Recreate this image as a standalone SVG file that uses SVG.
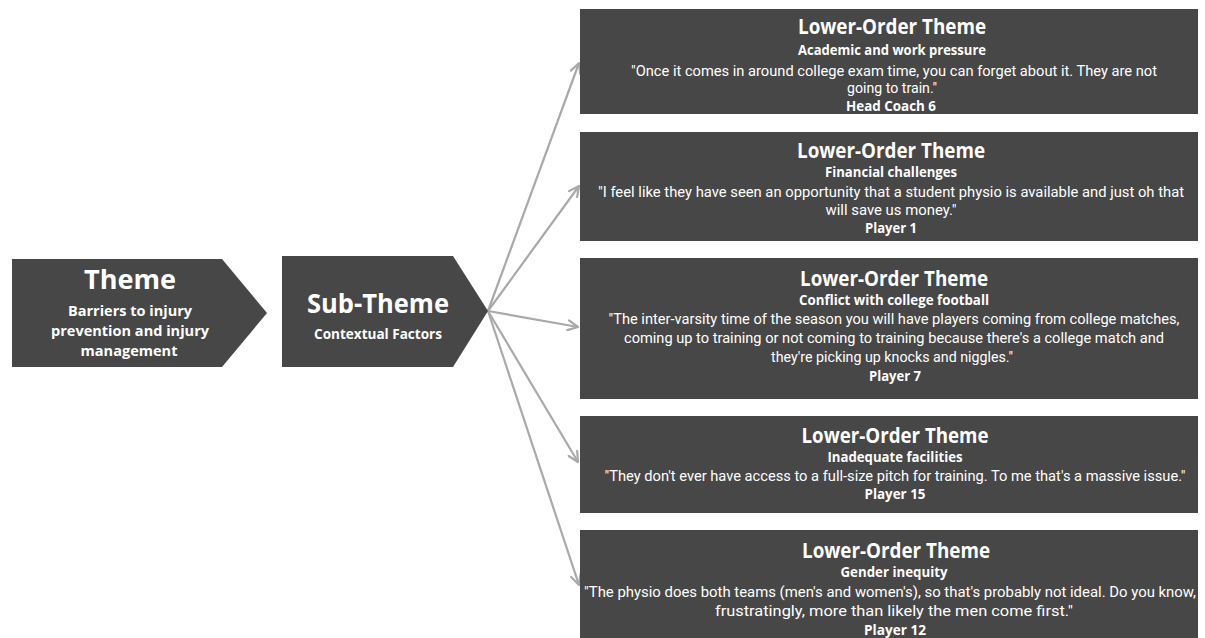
<svg xmlns="http://www.w3.org/2000/svg" width="1205" height="638" viewBox="0 0 1205 638">
<style>
.bg{fill:#ffffff}
.box{fill:#474747}
.t{font-family:"Open Sans","Liberation Sans",sans-serif;fill:#ffffff;text-anchor:middle}
.big{font-weight:700;font-size:27px}
.bs{font-weight:700;font-size:14.5px}
.h{font-weight:700;font-size:20.5px}
.s{font-weight:700;font-size:13.5px}
.q{font-family:Roboto,"Liberation Sans",sans-serif;font-weight:400;font-size:14px}
.n{font-weight:700;font-size:13.5px}
.c{stroke:#a9a9a9;stroke-width:2.2;fill:none}
</style>
<defs>
<marker id="arr" viewBox="0 0 12 12" refX="11" refY="6" markerWidth="12" markerHeight="12" markerUnits="userSpaceOnUse" orient="auto">
<path d="M1,1 L11,6 L1,11" fill="none" stroke="#a9a9a9" stroke-width="2.2" stroke-linecap="round" stroke-linejoin="round"/>
</marker>
</defs>
<rect class="bg" x="0" y="0" width="1205" height="638"/>

<g id="connectors">
<line class="c" x1="488" y1="311" x2="579" y2="63" marker-end="url(#arr)"/>
<line class="c" x1="488" y1="311" x2="579" y2="186" marker-end="url(#arr)"/>
<line class="c" x1="488" y1="311" x2="578" y2="327" marker-end="url(#arr)"/>
<line class="c" x1="488" y1="311" x2="578" y2="462" marker-end="url(#arr)"/>
<line class="c" x1="488" y1="311" x2="579" y2="585" marker-end="url(#arr)"/>
</g>

<g id="theme">
<polygon class="box" points="12,259 222,259 267,313 222,367 12,367"/>
<text class="t big" x="130" y="289" textLength="92" lengthAdjust="spacingAndGlyphs">Theme</text>
<text class="t bs" x="130" y="316" textLength="124" lengthAdjust="spacingAndGlyphs">Barriers to injury</text>
<text class="t bs" x="130" y="336" textLength="158" lengthAdjust="spacingAndGlyphs">prevention and injury</text>
<text class="t bs" x="129" y="356" textLength="97" lengthAdjust="spacingAndGlyphs">management</text>
</g>

<g id="subtheme">
<polygon class="box" points="282,256 453,256 488,311 453,367 282,367"/>
<text class="t big" x="378" y="313" textLength="142" lengthAdjust="spacingAndGlyphs">Sub-Theme</text>
<text class="t s" x="378" y="339" textLength="128" lengthAdjust="spacingAndGlyphs">Contextual Factors</text>
</g>

<g id="lot1">
<rect class="box" x="580" y="9" width="618" height="105"/>
<text class="t h" x="892" y="34" textLength="188" lengthAdjust="spacingAndGlyphs">Lower-Order Theme</text>
<text class="t s" x="892" y="55" textLength="188" lengthAdjust="spacingAndGlyphs">Academic and work pressure</text>
<text class="t q" x="894" y="76" textLength="526" lengthAdjust="spacingAndGlyphs">"Once it comes in around college exam time, you can forget about it. They are not</text>
<text class="t q" x="892" y="93" textLength="90" lengthAdjust="spacingAndGlyphs">going to train."</text>
<text class="t n" x="891" y="111" textLength="90" lengthAdjust="spacingAndGlyphs">Head Coach 6</text>
</g>

<g id="lot2">
<rect class="box" x="580" y="132" width="618" height="109"/>
<text class="t h" x="891" y="158" textLength="188" lengthAdjust="spacingAndGlyphs">Lower-Order Theme</text>
<text class="t s" x="891" y="177" textLength="132" lengthAdjust="spacingAndGlyphs">Financial challenges</text>
<text class="t q" x="891" y="197" textLength="586" lengthAdjust="spacingAndGlyphs">"I feel like they have seen an opportunity that a student physio is available and just oh that</text>
<text class="t q" x="891" y="215" textLength="131" lengthAdjust="spacingAndGlyphs">will save us money."</text>
<text class="t n" x="891" y="233" textLength="52" lengthAdjust="spacingAndGlyphs">Player 1</text>
</g>

<g id="lot3">
<rect class="box" x="580" y="258" width="618" height="141"/>
<text class="t h" x="894" y="286" textLength="188" lengthAdjust="spacingAndGlyphs">Lower-Order Theme</text>
<text class="t s" x="894" y="305" textLength="190" lengthAdjust="spacingAndGlyphs">Conflict with college football</text>
<text class="t q" x="894" y="324" textLength="571" lengthAdjust="spacingAndGlyphs">"The inter-varsity time of the season you will have players coming from college matches,</text>
<text class="t q" x="894" y="343" textLength="540" lengthAdjust="spacingAndGlyphs">coming up to training or not coming to training because there's a college match and</text>
<text class="t q" x="892" y="362" textLength="242" lengthAdjust="spacingAndGlyphs">they're picking up knocks and niggles."</text>
<text class="t n" x="895" y="381" textLength="52" lengthAdjust="spacingAndGlyphs">Player 7</text>
</g>

<g id="lot4">
<rect class="box" x="580" y="416" width="618" height="97"/>
<text class="t h" x="895" y="443" textLength="187" lengthAdjust="spacingAndGlyphs">Lower-Order Theme</text>
<text class="t s" x="895" y="462" textLength="135" lengthAdjust="spacingAndGlyphs">Inadequate facilities</text>
<text class="t q" x="895" y="481" textLength="581" lengthAdjust="spacingAndGlyphs">"They don't ever have access to a full-size pitch for training. To me that's a massive issue."</text>
<text class="t n" x="895" y="499" textLength="61" lengthAdjust="spacingAndGlyphs">Player 15</text>
</g>

<g id="lot5">
<rect class="box" x="580" y="530" width="618" height="108"/>
<text class="t h" x="896" y="558" textLength="188" lengthAdjust="spacingAndGlyphs">Lower-Order Theme</text>
<text class="t s" x="894" y="577" textLength="107" lengthAdjust="spacingAndGlyphs">Gender inequity</text>
<text class="t q" x="890" y="597" textLength="612" lengthAdjust="spacingAndGlyphs">"The physio does both teams (men's and women's), so that's probably not ideal. Do you know,</text>
<text class="t q" x="894" y="616" textLength="358" lengthAdjust="spacingAndGlyphs">frustratingly, more than likely the men come first."</text>
<text class="t n" x="895" y="635" textLength="62" lengthAdjust="spacingAndGlyphs">Player 12</text>
</g>
</svg>
